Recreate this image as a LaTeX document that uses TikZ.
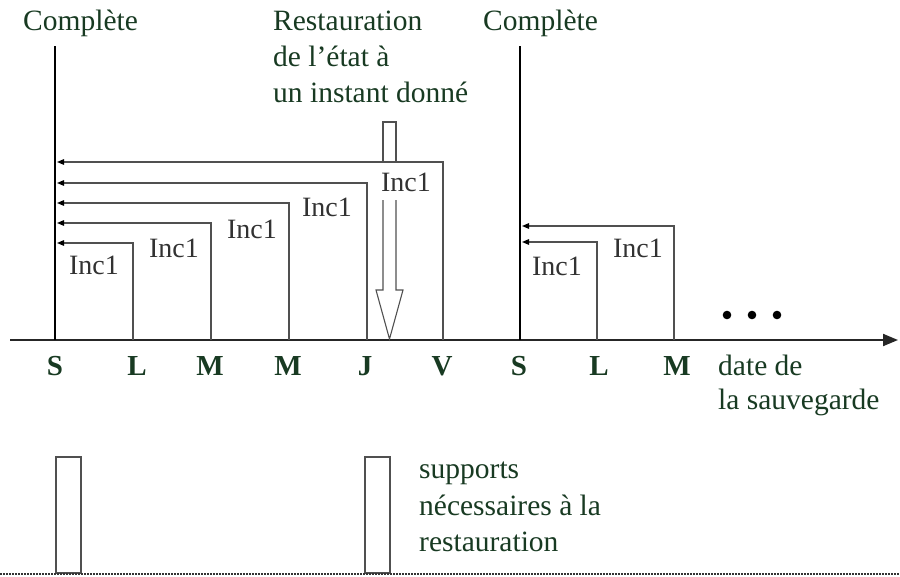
\documentclass[tikz,border=0pt]{standalone}
\usepackage{fontspec}
\setmainfont{Liberation Serif}
\usetikzlibrary{arrows.meta}
\definecolor{txtgreen}{RGB}{24,58,34}
\definecolor{incgray}{RGB}{80,80,80}
\definecolor{labgray}{RGB}{50,50,50}
\tikzset{
  gtext/.style={font=\fontsize{29.5}{36}\selectfont, text=txtgreen, inner sep=0pt, anchor=base west},
  daylab/.style={font=\fontsize{29}{32}\selectfont\bfseries, text=txtgreen, inner sep=0pt, anchor=base},
  inclab/.style={font=\fontsize{28}{30}\selectfont, text=labgray, inner sep=0pt},
  fullline/.style={line width=2.4pt, black},
  incline/.style={line width=1.3pt, incgray, -{Triangle[length=7pt,width=5.5pt,color=black]}},
  hollow/.style={line width=1.1pt, incgray, line join=miter},
  support/.style={line width=1.3pt, incgray},
  axisline/.style={line width=2pt, black!85, -{Triangle[length=15pt,width=12pt]}},
}
\begin{document}
\begin{tikzpicture}[x=1pt,y=-1pt]
\useasboundingbox (0,0) rectangle (900,576);

% axis
\coordinate (ax0) at (10,340);
\coordinate (ax1) at (898,340);
\draw[axisline] (ax0) -- (ax1);

% tick points on the axis
\coordinate (tS1) at (55,340);
\coordinate (tL1) at (133,340);
\coordinate (tM1) at (211,340);
\coordinate (tM2) at (289,340);
\coordinate (tJ1) at (367,340);
\coordinate (tV1) at (443,340);
\coordinate (tS2) at (520,340);
\coordinate (tL2) at (597,340);
\coordinate (tM3) at (674,340);

% full backup lines
\coordinate (fTop1) at (55,46);
\coordinate (fTop2) at (520,46);
\draw[fullline] (tS1) -- (fTop1);
\draw[fullline] (tS2) -- (fTop2);

% arrow targets on the full lines
\coordinate (aL1) at (57,243);
\coordinate (aM1) at (57,223);
\coordinate (aM2) at (57,203);
\coordinate (aJ1) at (57,183);
\coordinate (aV1) at (57,162);
\coordinate (aL2) at (522,242);
\coordinate (aM3) at (522,226);

% hollow restoration arrow (drawn before the lines)
\coordinate (h1) at (383,162);
\coordinate (h2) at (383,122);
\coordinate (h3) at (396,122);
\coordinate (h4) at (396,162);
\draw[hollow] (h1) -- (h2) -- (h3) -- (h4);
\coordinate (b1) at (383,200);
\coordinate (b2) at (383,290);
\coordinate (b3) at (376,290);
\coordinate (b4) at (389.5,339);
\coordinate (b5) at (403,290);
\coordinate (b6) at (396,290);
\coordinate (b7) at (396,200);
\draw[hollow] (b1) -- (b2) -- (b3) -- (b4) -- (b5) -- (b6) -- (b7);

% incremental lines
\draw[incline] (tL1) |- (aL1);
\draw[incline] (tM1) |- (aM1);
\draw[incline] (tM2) |- (aM2);
\draw[incline] (tJ1) |- (aJ1);
\draw[incline] (tV1) |- (aV1);
\draw[incline] (tL2) |- (aL2);
\draw[incline] (tM3) |- (aM3);

% Inc1 labels
\node[inclab] (i1) at (94,265) {Inc1};
\node[inclab] (i2) at (174,248) {Inc1};
\node[inclab] (i3) at (252,229) {Inc1};
\node[inclab] (i4) at (327,207) {Inc1};
\node[inclab] (i5) at (406,182) {Inc1};
\node[inclab] (i6) at (557,266) {Inc1};
\node[inclab] (i7) at (638,248) {Inc1};

% day labels
\node[daylab] (dS1) at (55,375) {S};
\node[daylab] (dL1) at (137,375) {L};
\node[daylab] (dM1) at (210,375) {M};
\node[daylab] (dM2) at (288,375) {M};
\node[daylab] (dJ1) at (365,375) {J};
\node[daylab] (dV1) at (442,375) {V};
\node[daylab] (dS2) at (519,375) {S};
\node[daylab] (dL2) at (599,375) {L};
\node[daylab] (dM3) at (677,375) {M};

% texts
\node[gtext] (c1) at (23,30) {Complète};
\node[gtext] (c2) at (483,30) {Complète};
\node[gtext] (r1) at (273,30) {Restauration};
\node[gtext] (r2) at (273,66) {de l’état à};
\node[gtext] (r3) at (273,102) {un instant donné};
\node[gtext] (d1) at (718,375) {date de};
\node[gtext] (d2) at (718,409) {la sauvegarde};
\node[gtext] (s1) at (419,478) {supports};
\node[gtext] (s2) at (419,515) {nécessaires à la};
\node[gtext] (s3) at (419,551) {restauration};

% dots
\fill[black] (727,315) circle (4.3);
\fill[black] (752,315) circle (4.3);
\fill[black] (777,315) circle (4.3);

% supports
\coordinate (p1a) at (56,573);
\coordinate (p1b) at (81,457);
\coordinate (p2a) at (365,573);
\coordinate (p2b) at (390,457);
\draw[support] (p1a) rectangle (p1b);
\draw[support] (p2a) rectangle (p2b);

% dotted ground line
\coordinate (g0) at (0,574);
\coordinate (g1) at (900,574);
\draw[line width=2.4pt, black!80, dash pattern=on 1.5pt off 1.5pt] (g0) -- (g1);
\end{tikzpicture}
\end{document}
